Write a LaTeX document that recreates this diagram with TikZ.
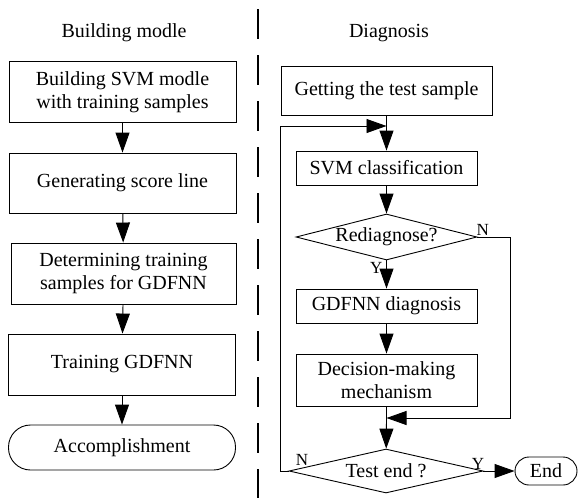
\documentclass[tikz,border=0pt]{standalone}
\usepackage{fontspec}
\setmainfont{Liberation Serif}
\usepackage{tikz}
\usetikzlibrary{arrows.meta,shapes.geometric}

\begin{document}
\begin{tikzpicture}[x=1pt,y=-1pt,
  every node/.style={font=\fontsize{20}{23.5}\selectfont},
  proc/.style={draw,line width=0.9pt,align=center,inner sep=0pt},
  term/.style={draw,line width=0.9pt,rounded corners=14pt,inner sep=0pt},
  decide/.style={draw,line width=0.9pt,diamond,inner sep=-1.5pt},
  lbl/.style={font=\fontsize{17}{17}\selectfont,inner sep=1pt},
  arr/.style={line width=0.9pt,-{Triangle[length=20pt,width=14pt]}}]
\useasboundingbox (0,0) rectangle (578,498);

% building the modle
\node[] (ttlA) at (124,33) {Building modle};
\node[proc,minimum width=227,minimum height=61] (build) at (122.5,92) {Building SVM modle\\with training samples};
\node[proc,minimum width=227,minimum height=60] (score) at (122.5,183) {Generating score line};
\node[proc,minimum width=225,minimum height=61] (detm) at (123.5,273.5) {Determining training\\samples for GDFNN};
\node[proc,minimum width=227,minimum height=61] (train) at (122,364.5) {Training GDFNN};
\node[term,rounded corners=22pt,minimum width=227,minimum height=45] (accomp) at (122,447.5) {Accomplishment};
\draw [arr] (build) -- (score);
\draw [arr] (score) -- (detm);
\draw [arr] (detm) -- (train);
\draw [arr] (train) -- (accomp);

% divider
\draw [line width=1.2pt,dash pattern=on 30pt off 16pt] (258,9) -- (258,498);

% diagnosis
\node[] (ttlB) at (389,33) {Diagnosis};
\node[proc,minimum width=211,minimum height=49] (getS) at (386.5,90.5) {Getting the test sample};
\node[proc,minimum width=181,minimum height=34] (svm) at (386.5,168) {SVM classification};
\node[decide,aspect=3.9,minimum width=181,minimum height=46] (rediag) at (386.5,237) {Rediagnose?};
\node[proc,minimum width=181,minimum height=34] (gdfnn) at (386.5,306) {GDFNN diagnosis};
\node[proc,minimum width=181,minimum height=52] (decis) at (386.5,380) {Decision-making\\mechanism};
\node[decide,aspect=4.4,minimum width=194,minimum height=44] (tend) at (386,471) {Test end ?};
\node[term,minimum width=62,minimum height=28] (endT) at (546,471) {End};
\coordinate (back) at (386.5,126);
\coordinate (merge) at (386.5,418);

\draw [line width=0.9pt] (getS) -- (back);
\draw [arr] (back) -- (svm);
\draw [arr] (svm) -- (rediag);
\draw [arr] (rediag) -- (gdfnn);
\draw [arr] (gdfnn) -- (decis);
\draw [line width=0.9pt] (decis) -- (merge);
\draw [arr] (merge) -- (tend);
\draw [arr] (rediag.east) -- ++(33,0) |- (merge);
\draw [arr] (tend.west) -- ++(-8,0) |- (back);
\draw [arr] (tend.east) -- (endT.west);

\node[lbl,anchor=south west] (nA) at ([xshift=-2pt]rediag.east) {N};
\node[lbl,anchor=north east] (yA) at ([xshift=-3pt,yshift=-1pt]rediag.south) {Y};
\node[lbl,anchor=south west] (nB) at ([xshift=6pt,yshift=4pt]tend.west) {N};
\node[lbl,anchor=south east] (yB) at ([xshift=2pt]tend.east) {Y};
\end{tikzpicture}
\end{document}
